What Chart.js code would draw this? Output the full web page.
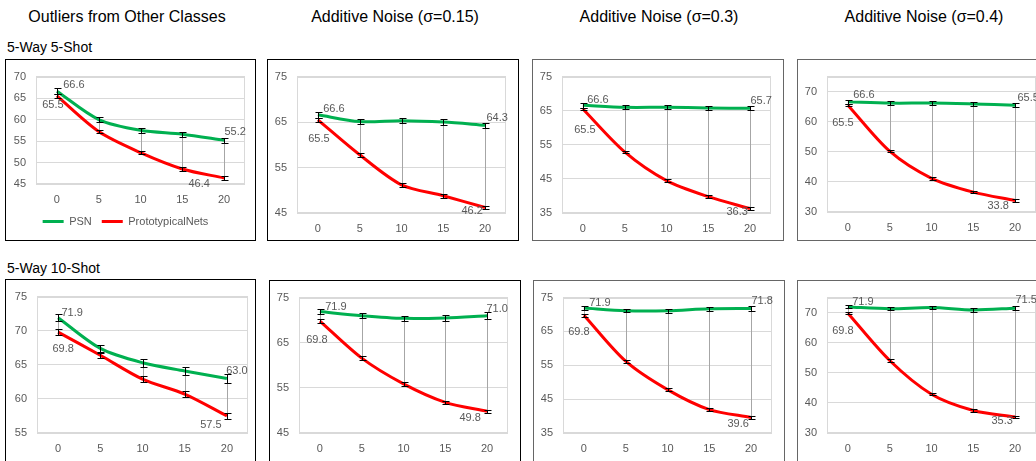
<!DOCTYPE html>
<html>
<head>
<meta charset="utf-8">
<script src="https://cdn.jsdelivr.net/npm/chart.js@4.4.1/dist/chart.umd.min.js"></script>
<style>
  body { margin:0; width:1036px; height:461px; overflow:hidden; background:#fff; position:relative;
         font-family:"Liberation Sans", Arial, sans-serif; }
  .title { position:absolute; top:8px; font-size:16px; line-height:18px; color:#000; transform:translateX(-50%); white-space:nowrap; }
  .row { position:absolute; left:7px; font-size:14px; line-height:16px; color:#000; white-space:nowrap; }
  .box { position:absolute; box-sizing:border-box; border:1px solid #000; }
  .box canvas { position:absolute; left:0; top:0; }
</style>
</head>
<body>
<div class="title" style="left:127px">Outliers from Other Classes</div>
<div class="title" style="left:395px">Additive Noise (σ=0.15)</div>
<div class="title" style="left:659px">Additive Noise (σ=0.3)</div>
<div class="title" style="left:924px">Additive Noise (σ=0.4)</div>
<div class="row" style="top:39px">5-Way 5-Shot</div>
<div class="row" style="top:260px">5-Way 10-Shot</div>

<script>
// x axis: outlier / noise amount
const steps = ['0', '5', '10', '15', '20'];
const seriesNames = ['PSN', 'PrototypicalNets'];

// 5-way 5-shot
const psnOutlier5 = [66.6, 60.0, 57.5, 56.6, 55.2];
const protoOutlier5 = [65.5, 57.2, 52.3, 48.5, 46.4];
const psnNoise15_5 = [66.6, 65.1, 65.3, 65.0, 64.3];
const protoNoise15_5 = [65.5, 57.8, 51.2, 48.8, 46.2];
const psnNoise30_5 = [66.6, 66.0, 66.0, 65.8, 65.7];
const protoNoise30_5 = [65.5, 52.9, 44.5, 39.8, 36.3];
const psnNoise40_5 = [66.6, 66.2, 66.2, 65.9, 65.5];
const protoNoise40_5 = [65.5, 50.2, 41.2, 36.6, 33.8];

// 5-way 10-shot
const psnOutlier10 = [71.9, 67.4, 65.3, 64.1, 63.0];
const protoOutlier10 = [69.8, 66.4, 62.9, 60.7, 57.5];
const psnNoise15_10 = [71.9, 71.0, 70.4, 70.5, 71.0];
const protoNoise15_10 = [69.8, 61.6, 55.9, 51.8, 49.8];
const psnNoise30_10 = [71.9, 71.1, 71.1, 71.7, 71.8];
const protoNoise30_10 = [69.8, 56.2, 47.8, 41.9, 39.6];
const psnNoise40_10 = [71.9, 71.3, 71.7, 70.9, 71.5];
const protoNoise40_10 = [69.8, 54.1, 42.9, 37.5, 35.3];

// error bars (+/-)
const psnErr5 = [0.7, 0.6, 0.6, 0.6, 0.6];
const protoErr5 = [0.4, 0.4, 0.4, 0.4, 0.4];
const psnErr10 = [0.5, 0.5, 0.6, 0.6, 0.7];
const protoErr10 = [0.4, 0.4, 0.4, 0.4, 0.4];

// y axis ranges [min, max, step]
const yOutlier5 = [45, 70, 5];
const yOutlier10 = [55, 75, 5];
const yNoise15 = [45, 75, 10];
const yNoise30 = [35, 75, 10];
const yNoise40 = [30, 75, 10];

const GREEN = '#00B050', RED = '#FF0000', TXT = '#595959';

Chart.defaults.font.family = "'Liberation Sans', Arial, sans-serif";
Chart.defaults.font.size = 11;
Chart.defaults.color = TXT;

// light frame around plot area + grey high-low lines between the two series
const frameAndHiLo = {
  id: 'frameAndHiLo',
  beforeDatasetsDraw(chart) {
    const { ctx, chartArea: a } = chart;
    ctx.save();
    ctx.strokeStyle = '#D9D9D9';
    ctx.lineWidth = 1;
    ctx.strokeRect(Math.round(a.left) + 0.5, Math.round(a.top) + 0.5, Math.round(a.width) - 1, Math.round(a.height) - 1);
    const m0 = chart.getDatasetMeta(0).data, m1 = chart.getDatasetMeta(1).data;
    ctx.strokeStyle = '#A6A6A6';
    ctx.beginPath();
    for (let i = 0; i < m0.length; i++) {
      const x = Math.round(m0[i].x) + 0.5;
      ctx.moveTo(x, m0[i].y);
      ctx.lineTo(x, m1[i].y);
    }
    ctx.stroke();
    ctx.restore();
  }
};

// error bars and first/last value labels
const errAndLabels = {
  id: 'errAndLabels',
  afterDatasetsDraw(chart) {
    const { ctx } = chart;
    const ys = chart.scales.y;
    ctx.save();
    chart.data.datasets.forEach((ds, di) => {
      const pts = chart.getDatasetMeta(di).data;
      ctx.strokeStyle = '#000';
      ctx.lineWidth = 1;
      ctx.beginPath();
      pts.forEach((p, i) => {
        const x = Math.round(p.x) + 0.5;
        const y1 = Math.round(ys.getPixelForValue(ds.data[i] + ds.errors[i])) + 0.5;
        const y2 = Math.round(ys.getPixelForValue(ds.data[i] - ds.errors[i])) + 0.5;
        ctx.moveTo(x, y1); ctx.lineTo(x, y2);
        ctx.moveTo(x - 3, y1); ctx.lineTo(x + 4, y1);
        ctx.moveTo(x - 3, y2); ctx.lineTo(x + 4, y2);
      });
      ctx.stroke();

      ctx.fillStyle = TXT;
      ctx.font = "11px 'Liberation Sans', Arial, sans-serif";
      ctx.textAlign = 'center';
      ctx.textBaseline = 'middle';
      const last = pts.length - 1;
      [[0, ds.labelAt[0]], [last, ds.labelAt[1]]].forEach(([i, off]) => {
        ctx.fillText(ds.data[i].toFixed(1), pts[i].x + off[0], pts[i].y + off[1]);
      });
    });
    ctx.restore();
  }
};

const panels = [
  { box: [5, 59, 251, 182], plot: [36, 72, 245, 184], legend: true, y: yOutlier5,
    psn: psnOutlier5, proto: protoOutlier5, pe: psnErr5, re: protoErr5,
    lab: [[17, -6], [-4, 9], [11, -8], [-25, 6]] },
  { box: [267, 59, 252, 182], plot: [297, 72, 506, 213], y: yNoise15,
    psn: psnNoise15_5, proto: protoNoise15_5, pe: psnErr5, re: protoErr5,
    lab: [[16, -6], [1, 19], [12, -7], [-13, 3]] },
  { box: [532, 59, 252, 182], plot: [562, 72, 771, 213], y: yNoise30, border: '#666',
    psn: psnNoise30_5, proto: protoNoise30_5, pe: psnErr5, re: protoErr5,
    lab: [[15, -5], [2, 21], [11, -7], [-13, 3]] },
  { box: [797, 59, 252, 182], plot: [827, 73, 1036, 212], y: yNoise40, border: '#666',
    psn: psnNoise40_5, proto: protoNoise40_5, pe: psnErr5, re: protoErr5,
    lab: [[16, -7], [-5, 18], [13, -7], [-17, 5]] },
  { box: [5, 279, 251, 200], plot: [37, 292, 248, 433], y: yOutlier10,
    psn: psnOutlier10, proto: protoOutlier10, pe: psnErr10, re: protoErr10,
    lab: [[14, -5], [5, 17], [10, -7], [-16, 9]] },
  { box: [269, 280, 252, 200], plot: [299, 292, 508, 433], y: yNoise15,
    psn: psnNoise15_10, proto: protoNoise15_10, pe: psnErr10, re: protoErr10,
    lab: [[16, -5], [-3, 19], [10, -7], [-17, 7]] },
  { box: [533, 280, 252, 200], plot: [563, 292, 772, 433], y: yNoise30, border: '#666',
    psn: psnNoise30_10, proto: protoNoise30_10, pe: psnErr10, re: protoErr10,
    lab: [[16, -5], [-5, 17], [11, -7], [-13, 7]] },
  { box: [797, 280, 252, 200], plot: [827, 292, 1036, 433], y: yNoise40, border: '#666',
    psn: psnNoise40_10, proto: protoNoise40_10, pe: psnErr10, re: protoErr10,
    lab: [[15, -5], [-5, 18], [11, -8], [-13, 4]] },
];

panels.forEach(p => {
  const [L, T, W, H] = p.box;
  const div = document.createElement('div');
  div.className = 'box';
  Object.assign(div.style, { left: L + 'px', top: T + 'px', width: W + 'px', height: H + 'px' });
  if (p.border) div.style.borderColor = p.border;
  const cv = document.createElement('canvas');
  cv.width = W - 2; cv.height = H - 2;
  div.appendChild(cv);
  document.body.appendChild(div);

  const [yMin, yMax, yStep] = p.y;
  const chart = new Chart(cv, {
    type: 'line',
    data: {
      labels: steps,
      datasets: [
        { label: seriesNames[0], data: p.psn, errors: p.pe, labelAt: [p.lab[0], p.lab[2]],
          borderColor: GREEN, backgroundColor: GREEN, borderWidth: 3, pointRadius: 0, tension: 0.3 },
        { label: seriesNames[1], data: p.proto, errors: p.re, labelAt: [p.lab[1], p.lab[3]],
          borderColor: RED, backgroundColor: RED, borderWidth: 3, pointRadius: 0, tension: 0.3 }
      ]
    },
    options: {
      responsive: false,
      animation: false,
      layout: { padding: { left: 0, top: 12, right: 10, bottom: 0 } },
      scales: {
        x: {
          offset: true,
          grid: { display: false, drawTicks: false },
          border: { display: false },
          ticks: { padding: 9, color: TXT, font: { size: 11 } },
          afterFit: s => { s.height = 22; }
        },
        y: {
          min: yMin, max: yMax, bounds: 'data',
          grid: { color: '#D9D9D9', drawTicks: false },
          border: { display: false },
          ticks: {
            stepSize: yStep, padding: 10, color: TXT, font: { size: 11 },
            callback: v => ((v - yMin) % yStep === 0 ? v : '')
          },
          afterFit: s => { s.width = 30; }
        }
      },
      plugins: {
        legend: {
          display: !!p.legend,
          position: 'bottom',
          labels: {
            boxWidth: 21, boxHeight: 3, padding: 10, color: TXT, font: { size: 11 },
            generateLabels(c) {
              const items = Chart.defaults.plugins.legend.labels.generateLabels(c);
              items.forEach(it => { it.fillStyle = it.strokeStyle; it.lineWidth = 0; });
              return items;
            }
          }
        },
        tooltip: { enabled: false }
      }
    },
    plugins: [frameAndHiLo, errAndLabels]
  });

  // nudge the padding so the plot area sits where the reference has it
  const a = chart.chartArea;
  const pad = chart.options.layout.padding;
  const want = [p.plot[0] - L - 1, p.plot[1] - T - 1, p.plot[2] - L - 1, p.plot[3] - T - 1];
  chart.options.layout.padding = {
    left: pad.left + (want[0] - a.left),
    top: pad.top + (want[1] - a.top),
    right: pad.right + (a.right - want[2]),
    bottom: pad.bottom + (a.bottom - want[3])
  };
  chart.update('none');
});
</script>
</body>
</html>
